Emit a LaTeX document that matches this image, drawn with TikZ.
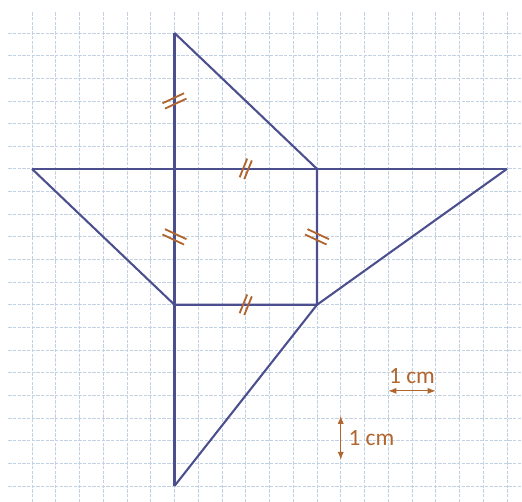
\documentclass[tikz,border=0pt]{standalone}
\usepackage{fontspec}
\setmainfont{Carlito}
\usepackage{tikz}
\usetikzlibrary{arrows.meta, positioning, calc}
\definecolor{figblue}{HTML}{4C4F8E}
\definecolor{tickbrown}{HTML}{B0662E}
\definecolor{gridblue}{HTML}{C2D2E4}

\begin{document}
\begin{tikzpicture}[
    x=0.5cm, y=0.4768cm,
    every node/.style={font=\fontsize{14}{16}\selectfont, text=tickbrown},
    seg/.style={draw=figblue, line width=1.25pt},
    gridline/.style={draw=gridblue, line width=0.5pt, dash pattern=on 2pt off 0.8pt},
    tickline/.style={draw=tickbrown, line width=1.1pt},
    scalearrow/.style={{Latex[length=1.7mm,width=1.3mm]}-{Latex[length=1.7mm,width=1.3mm]}, draw=tickbrown, line width=0.7pt},
    dbltick/.pic={
        \draw[tickline] (-0.5,0.13) -- (0.5,0.13);
        \draw[tickline] (-0.5,-0.13) -- (0.5,-0.13);
    }
]
    \useasboundingbox (-1.347,-0.706) rectangle (20.632,21.457);
    % squared paper
    \foreach \c in {0,...,20}
        \draw[gridline] (\c,-0.706) -- (\c,20.93);
    \foreach \r in {0,...,20}
        \draw[gridline] (-1,\r) -- (20.632,\r);

    % points of the figure
    \coordinate (top) at (6,20);
    \coordinate (left) at (0,14);
    \coordinate (right) at (20,14);
    \coordinate (bottom) at (6,0);
    \coordinate (sqA) at (6,14);
    \coordinate (sqB) at (12,14);
    \coordinate (sqC) at (12,8);
    \coordinate (sqD) at (6,8);

    \draw[seg] (left) -- (right);
    \draw[seg] (top) -- (bottom);
    \draw[seg] (top) -- (sqB) -- (sqC) -- (sqD) -- (left);
    \draw[seg] (right) -- (sqC) -- (bottom);

    % equal lengths
    \pic[rotate=25] at ($(top)!0.5!(sqA)$) {dbltick};
    \pic[rotate=-25] at ($(sqA)!0.5!(sqD)$) {dbltick};
    \pic[rotate=-25] at ($(sqB)!0.5!(sqC)$) {dbltick};
    \pic[rotate=68, scale=0.85] at ($(sqA)!0.5!(sqB)$) {dbltick};
    \pic[rotate=68, scale=0.85] at ($(sqD)!0.5!(sqC)$) {dbltick};

    % scale
    \coordinate (hA) at (15,4.2);
    \coordinate (hB) at (17,4.2);
    \coordinate (hmid) at ($(hA)!0.5!(hB)$);
    \draw[scalearrow] (hA) -- (hB);
    \node[above=0.02cm of hmid] (hlbl) {1 cm};

    \coordinate (vA) at (13,3.1);
    \coordinate (vB) at (13,1.15);
    \coordinate (vmid) at ($(vA)!0.5!(vB)$);
    \draw[scalearrow] (vA) -- (vB);
    \node[right=0.04cm of vmid] (vlbl) {1 cm};
\end{tikzpicture}
\end{document}
